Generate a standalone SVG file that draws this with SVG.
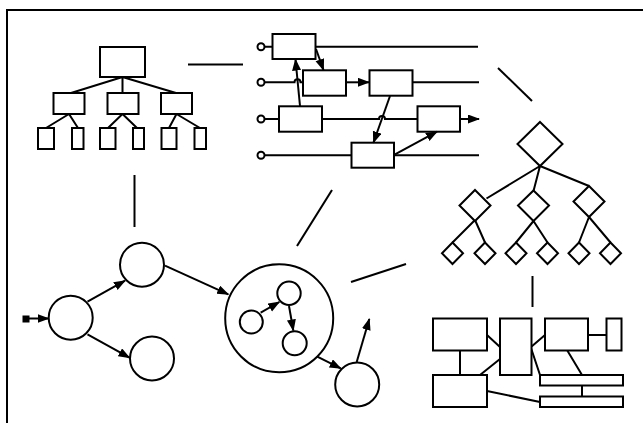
<svg xmlns="http://www.w3.org/2000/svg" width="643" height="423" viewBox="0 0 643 423">
<style>
.s{fill:#fff;stroke:#000;stroke-width:2}
.l{fill:none;stroke:#000;stroke-width:2}
.a{fill:none;stroke:#000;stroke-width:2;marker-end:url(#ah)}
</style>
<defs>
<marker id="ah" markerUnits="userSpaceOnUse" markerWidth="12" markerHeight="10" refX="11" refY="4.5" orient="auto"><path d="M0,0 L12,4.5 L0,9 z" fill="#000"/></marker>
</defs>
<rect x="0" y="0" width="643" height="423" fill="#fff"/>
<rect id="frame" x="7" y="10" width="645" height="420" fill="none" stroke="#000" stroke-width="2"/>
<g id="connectors">
<line class="l" x1="188" y1="64.5" x2="243" y2="64.5"/>
<line class="l" x1="498" y1="68" x2="532" y2="101"/>
<line class="l" x1="134.5" y1="175" x2="134.5" y2="227"/>
<line class="l" x1="297" y1="246" x2="332" y2="190"/>
<line class="l" x1="351" y1="282" x2="406" y2="264"/>
<line class="l" x1="532.5" y1="276" x2="532.5" y2="307"/>
</g>
<g id="tree">
<g class="l">
<path d="M122.5,77 L71,93 M122.5,77 V93 M122.5,77 L176,93"/>
<path d="M69,114 L46,128 M69,114 L78,128 M122.5,114 L108,128 M122.5,114 L137,128 M176.5,114 L169,128 M176.5,114 L200,128"/>
</g>
<rect class="s" x="100" y="47" width="45" height="30"/>
<rect class="s" x="53.5" y="93" width="31" height="21"/>
<rect class="s" x="107.5" y="93" width="31" height="21"/>
<rect class="s" x="161" y="93" width="31" height="21"/>
<rect class="s" x="38" y="128" width="16" height="21"/>
<rect class="s" x="72" y="128" width="11.5" height="21"/>
<rect class="s" x="100" y="128" width="15.5" height="21"/>
<rect class="s" x="133" y="128" width="11" height="21"/>
<rect class="s" x="161.5" y="128" width="15" height="21"/>
<rect class="s" x="194.5" y="128" width="11.5" height="21"/>
</g>
<g id="flow">
<g class="l">
<path d="M264.5,46.7 H272 M316,46.7 H478"/>
<path d="M264.5,82.3 H294.5 a3,3 0 0 1 6,0 H303 M412,82.3 H479"/>
<path d="M264.5,119 H279 M322,119 H379 a3,3 0 0 1 6,0 H417"/>
<path d="M264.5,155.3 H351 M394,155.3 H479"/>
</g>
<circle class="s" cx="261" cy="46.7" r="3.5"/>
<circle class="s" cx="261" cy="82.3" r="3.5"/>
<circle class="s" cx="261" cy="119" r="3.5"/>
<circle class="s" cx="261" cy="155.3" r="3.5"/>
<rect class="s" x="272.5" y="34" width="43" height="25"/>
<rect class="s" x="303" y="70.3" width="43" height="25.4"/>
<rect class="s" x="369.5" y="70.3" width="43" height="25.4"/>
<rect class="s" x="279" y="106.3" width="43" height="25.4"/>
<rect class="s" x="417.5" y="106.3" width="42.5" height="25.4"/>
<rect class="s" x="351.5" y="142.7" width="42.5" height="25"/>
<line class="a" x1="300" y1="106" x2="295.5" y2="59.5"/>
<line class="a" x1="316" y1="49" x2="323.5" y2="70"/>
<line class="a" x1="346" y1="82.3" x2="369" y2="82.3"/>
<line class="a" x1="390" y1="96" x2="373.5" y2="142.5"/>
<line class="a" x1="395" y1="154.3" x2="437" y2="131.7"/>
<line class="a" x1="460" y1="119" x2="479" y2="119"/>
</g>
<g id="diamonds">
<g class="l">
<path d="M540,166 L486.5,198.5 M540,166 L533.5,191 M540,166 L589,186"/>
<path d="M475,220 L452.5,242.5 M475,220 L485,242.5 M533.5,221 L516,242.5 M533.5,221 L547.5,242.5 M589,217 L579,242.5 M589,217 L610.5,242.5"/>
</g>
<path class="s" d="M540,122 L562.5,144 L540,166 L517.5,144 z"/>
<path class="s" d="M475,190 L490.5,205.5 L475,221 L459.5,205.5 z"/>
<path class="s" d="M533.5,190.5 L549,205.5 L533.5,221 L518,205.5 z"/>
<path class="s" d="M589,186 L604.5,201.5 L589,217 L573.5,201.5 z"/>
<path class="s" d="M452.5,242.5 L463,253.3 L452.5,264 L442,253.3 z"/>
<path class="s" d="M485,242.5 L495.5,253.3 L485,264 L474.5,253.3 z"/>
<path class="s" d="M516,242.5 L526.5,253.3 L516,264 L505.5,253.3 z"/>
<path class="s" d="M547.5,242.5 L558,253.3 L547.5,264 L537,253.3 z"/>
<path class="s" d="M579,242.5 L589.5,253.3 L579,264 L568.5,253.3 z"/>
<path class="s" d="M610.5,242.5 L621,253.3 L610.5,264 L600,253.3 z"/>
</g>
<g id="blocks">
<g class="l">
<path d="M487,335 L500,347 M500,359 L480,375 M460,350 V375 M531,347 L545,335 M588,335 H606 M531,348 L540,375 M567,350 L582,375 M582,385 V396 M487,391 L540,402"/>
</g>
<rect class="s" x="433" y="318.5" width="54" height="32"/>
<rect class="s" x="500" y="318.5" width="31.5" height="56.5"/>
<rect class="s" x="545" y="318.5" width="43" height="32"/>
<rect class="s" x="606.5" y="318.5" width="15" height="32"/>
<rect class="s" x="433" y="375" width="54" height="32"/>
<rect class="s" x="540" y="375" width="83" height="10.5"/>
<rect class="s" x="540" y="396.5" width="83" height="10.5"/>
</g>
<g id="states">
<rect x="22.5" y="315.5" width="7" height="7" fill="#000"/>
<line class="a" x1="29" y1="318.5" x2="48.5" y2="318.5"/>
<circle class="s" cx="70.7" cy="317.7" r="22"/>
<circle class="s" cx="142" cy="264.7" r="22"/>
<circle class="s" cx="152" cy="358.5" r="22"/>
<line class="a" x1="87.5" y1="301.7" x2="125" y2="280.7"/>
<line class="a" x1="87.5" y1="334.3" x2="129.5" y2="357.7"/>
<line class="a" x1="165" y1="265.7" x2="228.3" y2="294.3"/>
<circle class="s" cx="279.2" cy="318.3" r="54"/>
<circle class="s" cx="251.3" cy="322" r="11.5"/>
<circle class="s" cx="289" cy="293.3" r="11.7"/>
<circle class="s" cx="294.7" cy="343.3" r="12"/>
<line class="a" x1="260.7" y1="312.7" x2="279.3" y2="302"/>
<line class="a" x1="289" y1="306" x2="293.3" y2="330.5"/>
<line class="a" x1="317.3" y1="356.7" x2="340.7" y2="368.3"/>
<circle class="s" cx="357.2" cy="384.5" r="22"/>
<line class="a" x1="356.7" y1="362" x2="369.3" y2="319"/>
</g>
</svg>
